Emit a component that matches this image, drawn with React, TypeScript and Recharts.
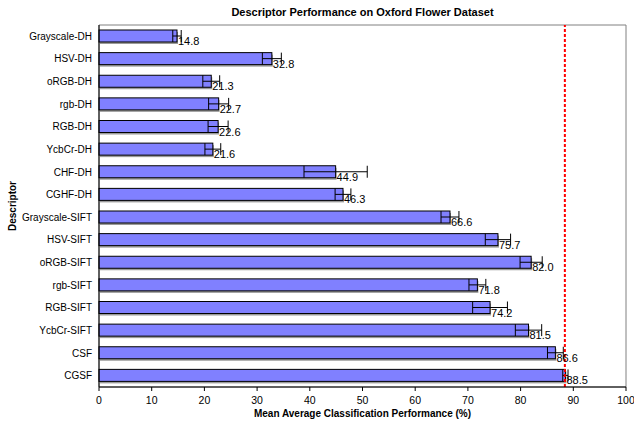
import { BarChart, Bar, XAxis, YAxis, ErrorBar, LabelList, ReferenceLine, ReferenceArea, Label } from "recharts"

const descriptors = [
  "Grayscale-DH", "HSV-DH", "oRGB-DH", "rgb-DH", "RGB-DH", "YcbCr-DH", "CHF-DH", "CGHF-DH",
  "Grayscale-SIFT", "HSV-SIFT", "oRGB-SIFT", "rgb-SIFT", "RGB-SIFT", "YcbCr-SIFT", "CSF", "CGSF",
];
const performance = [14.8, 32.8, 21.3, 22.7, 22.6, 21.6, 44.9, 46.3, 66.6, 75.7, 82.0, 71.8, 74.2, 81.5, 86.6, 88.5];
const stdDev = [0.8, 1.8, 1.6, 1.9, 1.9, 1.5, 6.0, 1.5, 1.7, 2.4, 2.1, 1.6, 3.3, 2.5, 1.5, 0.5];
const xTicks = [0, 10, 20, 30, 40, 50, 60, 70, 80, 90, 100];
const bestLevel = 88.4;

const data = descriptors.map((name, i) => ({ name, value: performance[i], err: stdDev[i] }));

const font = "Arial, 'Liberation Sans', sans-serif";

const ShadowBar = (props: any) => {
  const { x, y, width, height } = props;
  return (
    <g>
      <rect x={x + 1} y={y + 2} width={width} height={height} fill="#9a9a9a" />
      <rect x={x} y={y} width={width} height={height} fill="#8080FF" stroke="#000" strokeWidth={1} />
    </g>
  );
};

const ValueLabel = (props: any) => {
  const { x, y, width, height, value } = props;
  return (
    <text x={x + width + 1} y={y + height / 2 + 9} fontSize={11} fontFamily={font} fill="#000">
      {Number(value).toFixed(1)}
    </text>
  );
};

export default function App() {
  return (
    <div style={{ position: "absolute", left: 0, top: 0, width: 634, height: 425, background: "#fff", fontFamily: font }}>
      <div style={{ position: "absolute", left: 99, width: 527, top: 6, textAlign: "center", fontSize: 11, fontWeight: "bold" }}>
        Descriptor Performance on Oxford Flower Dataset
      </div>
      <div
        style={{
          position: "absolute", left: 12, top: 206, fontSize: 10, fontWeight: "bold",
          transform: "translate(-50%, -50%) rotate(-90deg)", whiteSpace: "nowrap",
        }}
      >
        Descriptor
      </div>
      <BarChart
        width={634}
        height={425}
        data={data}
        layout="vertical"
        barSize={12}
        margin={{ top: 25, right: 8, bottom: 0, left: 0 }}
      >
        <ReferenceArea x1={0} x2={100} fill="none" stroke="#808080" strokeWidth={1} ifOverflow="visible" />
        <XAxis
          type="number"
          domain={[0, 100]}
          ticks={xTicks}
          height={38}
          tickSize={4}
          tickMargin={6}
          stroke="#000"
          tick={{ fill: "#000", fontSize: 10.5, fontFamily: font }}
        >
          <Label value="Mean Average Classification Performance (%)" position="insideBottom" offset={8}
            style={{ fontSize: 10, fontWeight: "bold", fontFamily: font, fill: "#000" }} />
        </XAxis>
        <YAxis
          type="category"
          dataKey="name"
          width={99}
          tickLine={false}
          tickMargin={1}
          stroke="#000"
          interval={0}
          tick={{ fill: "#000", fontSize: 10, fontFamily: font }}
        />
        <Bar dataKey="value" shape={ShadowBar} isAnimationActive={false}>
          <ErrorBar dataKey="err" direction="x" width={6} stroke="#000" strokeWidth={1} />
          <LabelList dataKey="value" content={ValueLabel} />
        </Bar>
        <ReferenceLine x={bestLevel} stroke="#FF0000" strokeWidth={2} strokeDasharray="3 2" />
      </BarChart>
    </div>
  );
}
